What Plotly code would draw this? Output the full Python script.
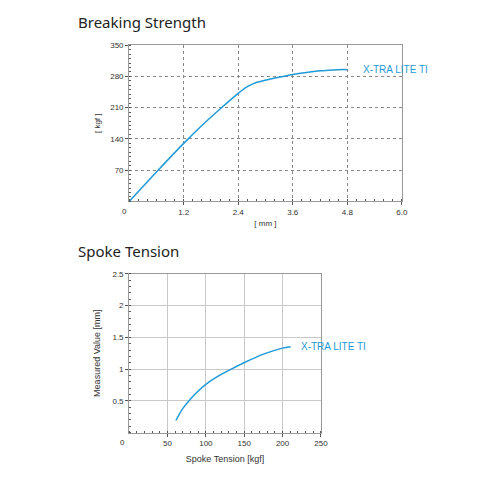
import plotly.graph_objects as go

# Breaking strength curve: elongation [mm] vs load [kgf]
bs_mm = [0, 0.6, 1.2, 1.6, 2.0, 2.4, 2.6, 2.8, 3.1, 3.31, 3.6, 3.9, 4.2, 4.5, 4.75, 4.8]
bs_kgf = [0, 66, 130, 170, 207, 242, 257, 266.5, 274, 278.5, 284.5, 289, 292.5, 294.5, 295.5, 295]

# Spoke tension curve: tension [kgf] vs measured value [mm]
st_kgf = [60.9, 70, 80, 90, 100, 117, 135, 151, 175, 200, 210.5]
st_mm = [0.19, 0.38, 0.53, 0.655, 0.76, 0.895, 1.01, 1.107, 1.235, 1.33, 1.352]

series_name = "X-TRA LITE TI"
line_color = "#1f9ad6"
tick_font = dict(family="Liberation Sans, Arial", size=8, color="#333")

fig = go.Figure()

fig.add_trace(go.Scatter(x=bs_mm, y=bs_kgf, mode="lines", line=dict(color=line_color, width=1.5, shape="spline", smoothing=0.6),
                         xaxis="x", yaxis="y", showlegend=False, hoverinfo="skip"))
fig.add_trace(go.Scatter(x=st_kgf, y=st_mm, mode="lines", line=dict(color=line_color, width=1.5, shape="spline", smoothing=0.8),
                         xaxis="x2", yaxis="y2", showlegend=False, hoverinfo="skip"))

common = dict(showline=True, linecolor="#999", linewidth=1, mirror=True, ticks="outside", ticklen=3,
              tickcolor="#555", tickfont=tick_font, zeroline=False)
axis_title_small = dict(family="Liberation Sans, Arial", size=8, color="#333")
axis_title = dict(family="Liberation Sans, Arial", size=9, color="#333")

fig.update_layout(
    width=500, height=500,
    margin=dict(l=0, r=0, t=0, b=0),
    paper_bgcolor="white", plot_bgcolor="white",
    xaxis=dict(domain=[0.262, 0.815], range=[0, 6], tickvals=[1.2, 2.4, 3.6, 4.8, 6.0], ticktext=["1.2", "2.4", "3.6", "4.8", "6.0"],
               showgrid=True, gridcolor="#888", griddash="dot", gridwidth=1, anchor="y",
               minor=dict(dtick=0.2, ticks="inside", ticklen=2, tickcolor="#555"),
               title=dict(text="[ mm ]", font=axis_title_small, standoff=4), **common),
    yaxis=dict(domain=[0.602, 0.917], range=[0, 350], tickvals=[70, 140, 210, 280, 350],
               showgrid=True, gridcolor="#888", griddash="dot", gridwidth=1, anchor="x",
               minor=dict(dtick=10, ticks="inside", ticklen=2, tickcolor="#555"),
               title=dict(text="[ kgf ]", font=axis_title_small, standoff=8), **common),
    xaxis2=dict(domain=[0.262, 0.651], range=[0, 250], tickvals=[50, 100, 150, 200, 250],
                showgrid=True, gridcolor="#c8c8c8", gridwidth=1, anchor="y2",
                minor=dict(dtick=10, ticks="inside", ticklen=2, tickcolor="#555"),
                title=dict(text="Spoke Tension [kgf]", font=axis_title, standoff=8), **common),
    yaxis2=dict(domain=[0.136, 0.456], range=[0, 2.5], tickvals=[0.5, 1, 1.5, 2, 2.5], ticktext=["0.5", "1", "1.5", "2", "2.5"],
                showgrid=True, gridcolor="#c8c8c8", gridwidth=1, anchor="x2",
                minor=dict(dtick=0.1, ticks="inside", ticklen=2, tickcolor="#555"),
                title=dict(text="Measured Value [mm]", font=axis_title, standoff=10), **common),
)

title_font = dict(family="Noto Sans, Open Sans", size=15, color="#222")
fig.add_annotation(text="Breaking Strength", xref="paper", yref="paper", x=0.154, y=1 - 18 / 500,
                   xanchor="left", yanchor="middle", showarrow=False, font=title_font)
fig.add_annotation(text="Spoke Tension", xref="paper", yref="paper", x=0.154, y=1 - 249 / 500,
                   xanchor="left", yanchor="middle", showarrow=False, font=title_font)

# origin labels sit just left of the corner
fig.add_annotation(text="0", xref="x", yref="y", x=0, y=0, xshift=-5, yshift=-10, showarrow=False, font=tick_font)
fig.add_annotation(text="0", xref="x2", yref="y2", x=0, y=0, xshift=-7, yshift=-10, showarrow=False, font=tick_font)

# series labels at the curve ends
label_font = dict(family="Liberation Sans, Arial", size=10, color=line_color)
fig.add_annotation(text=series_name, xref="x", yref="y", x=bs_mm[-1], y=bs_kgf[-1], xanchor="left", xshift=14,
                   showarrow=False, font=label_font)
fig.add_annotation(text=series_name, xref="x2", yref="y2", x=st_kgf[-1], y=st_mm[-1], xanchor="left", xshift=8,
                   showarrow=False, font=label_font)

# drop the default page margin so the figure sits at the window corner
fig.write_html("out.html", config={"displayModeBar": False}, post_script="document.body.style.margin='0';")
